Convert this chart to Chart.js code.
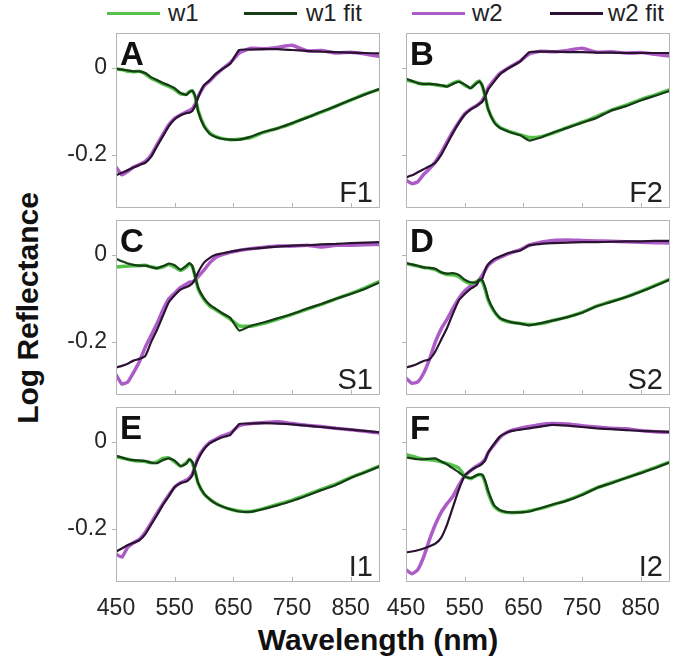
<!DOCTYPE html>
<html>
<head>
<meta charset="utf-8">
<title>Log Reflectance</title>
<script src="https://cdn.jsdelivr.net/npm/chart.js@4.4.1/dist/chart.umd.min.js"></script>
<style>
  body { margin: 0; width: 673px; height: 667px; background: #fff; position: relative; overflow: hidden;
         font-family: "Liberation Sans", Arial, Helvetica, sans-serif; color: #222; }
  canvas.panel { position: absolute; }
  .key { position: absolute; top: 12px; height: 3px; width: 53px; }
  .key-text { position: absolute; top: -1px; font-size: 24px; line-height: 28px; color: #222; white-space: nowrap; }
  #ylab { position: absolute; left: 28px; top: 308px; transform: translate(-50%, -50%) rotate(-90deg);
          font-weight: bold; font-size: 30px; white-space: nowrap; color: #111; }
  #xlab { position: absolute; left: 378px; top: 640px; transform: translate(-50%, -50%);
          font-weight: bold; font-size: 30px; white-space: nowrap; color: #111; }
</style>
</head>
<body>
<div class="key" style="left:107px;background:#55c04a"></div><div class="key-text" style="left:168px">w1</div>
<div class="key" style="left:244px;background:#173d17"></div><div class="key-text" style="left:306px">w1 fit</div>
<div class="key" style="left:412px;background:#ad5cc7"></div><div class="key-text" style="left:472px">w2</div>
<div class="key" style="left:550px;background:#2b1233"></div><div class="key-text" style="left:608px">w2 fit</div>
<div id="ylab">Log Reflectance</div>
<div id="xlab">Wavelength (nm)</div>
<script>
// wavelengths (nm), shared by every panel
const wavelengths = [450,460,470,480,490,500,510,520,530,540, 550,560,570,575,580,585,590,600, 610,620,630,645,660, 680,700,725,750,775,800,825,850,875,900];
const xTicks = [450, 550, 650, 750, 850];
const yTicks = [-0.2, 0];
const panelLetters = ['A', 'B', 'C', 'D', 'E', 'F'];
const panelLabels = ['F1', 'F2', 'S1', 'S2', 'I1', 'I2'];

// A / F1
const aW1    = [-0.003,-0.004,-0.008,-0.009,-0.008,-0.014,-0.024,-0.030,-0.037,-0.043, -0.050,-0.060,-0.061,-0.055,-0.053,-0.067,-0.098,-0.132, -0.150,-0.158,-0.162,-0.165,-0.164, -0.160,-0.149,-0.139,-0.128,-0.114,-0.102,-0.088,-0.074,-0.060,-0.049];
const aW1Fit = [-0.002,-0.004,-0.006,-0.008,-0.008,-0.012,-0.022,-0.028,-0.035,-0.040, -0.047,-0.058,-0.062,-0.056,-0.052,-0.065,-0.100,-0.135, -0.152,-0.159,-0.163,-0.165,-0.165, -0.158,-0.148,-0.139,-0.127,-0.115,-0.101,-0.088,-0.074,-0.061,-0.048];
const aW2    = [-0.228,-0.246,-0.238,-0.228,-0.222,-0.215,-0.200,-0.176,-0.153,-0.131, -0.116,-0.108,-0.101,-0.098,-0.094,-0.083,-0.066,-0.042, -0.030,-0.016,-0.004,0.012,0.034, 0.045,0.044,0.047,0.052,0.039,0.040,0.034,0.036,0.032,0.026];
const aW2Fit = [-0.247,-0.241,-0.235,-0.229,-0.223,-0.218,-0.204,-0.180,-0.157,-0.134, -0.118,-0.109,-0.104,-0.103,-0.099,-0.087,-0.068,-0.040, -0.028,-0.014,-0.004,0.010,0.041, 0.042,0.043,0.043,0.041,0.039,0.037,0.036,0.035,0.034,0.033];

// B / F2
const bW1    = [-0.028,-0.031,-0.035,-0.038,-0.037,-0.039,-0.041,-0.042,-0.035,-0.031, -0.040,-0.046,-0.034,-0.030,-0.042,-0.066,-0.095,-0.123, -0.137,-0.143,-0.148,-0.154,-0.160, -0.158,-0.150,-0.137,-0.125,-0.112,-0.097,-0.086,-0.073,-0.062,-0.050];
const bW1Fit = [-0.025,-0.030,-0.035,-0.037,-0.037,-0.038,-0.040,-0.043,-0.037,-0.032, -0.038,-0.047,-0.036,-0.031,-0.040,-0.065,-0.095,-0.125, -0.138,-0.144,-0.149,-0.155,-0.167, -0.160,-0.149,-0.138,-0.126,-0.115,-0.098,-0.088,-0.075,-0.064,-0.053];
const bW2    = [-0.258,-0.266,-0.262,-0.245,-0.232,-0.216,-0.195,-0.170,-0.146,-0.125, -0.106,-0.095,-0.087,-0.082,-0.075,-0.062,-0.046,-0.028, -0.013,-0.004,0.004,0.016,0.032, 0.038,0.037,0.040,0.045,0.036,0.037,0.034,0.035,0.031,0.027];
const bW2Fit = [-0.252,-0.247,-0.240,-0.233,-0.226,-0.218,-0.200,-0.175,-0.150,-0.127, -0.108,-0.096,-0.088,-0.083,-0.078,-0.066,-0.050,-0.032, -0.015,-0.005,0.003,0.015,0.036, 0.037,0.037,0.036,0.036,0.035,0.035,0.034,0.034,0.034,0.034];

// C / S1
const cW1    = [-0.028,-0.027,-0.026,-0.025,-0.025,-0.024,-0.028,-0.030,-0.028,-0.022, -0.028,-0.036,-0.028,-0.021,-0.027,-0.050,-0.078,-0.102, -0.118,-0.126,-0.135,-0.148,-0.163, -0.164,-0.158,-0.148,-0.137,-0.125,-0.114,-0.101,-0.089,-0.076,-0.061];
const cW1Fit = [-0.009,-0.015,-0.020,-0.023,-0.025,-0.025,-0.028,-0.031,-0.026,-0.020, -0.024,-0.034,-0.025,-0.019,-0.025,-0.050,-0.075,-0.100, -0.115,-0.124,-0.133,-0.145,-0.174, -0.163,-0.156,-0.146,-0.136,-0.124,-0.113,-0.101,-0.090,-0.078,-0.063];
const cW2    = [-0.275,-0.297,-0.292,-0.270,-0.245,-0.212,-0.185,-0.158,-0.127,-0.101, -0.088,-0.075,-0.067,-0.063,-0.062,-0.058,-0.050,-0.035, -0.018,-0.006,0.000,0.006,0.010, 0.014,0.017,0.020,0.020,0.022,0.018,0.022,0.022,0.023,0.024];
const cW2Fit = [-0.259,-0.255,-0.250,-0.243,-0.239,-0.232,-0.200,-0.172,-0.140,-0.109, -0.093,-0.080,-0.074,-0.071,-0.066,-0.055,-0.040,-0.018, -0.007,0.000,0.003,0.007,0.011, 0.014,0.016,0.019,0.021,0.022,0.024,0.025,0.027,0.028,0.029];

// D / S2
const dW1    = [-0.020,-0.023,-0.026,-0.029,-0.031,-0.034,-0.041,-0.045,-0.046,-0.050, -0.060,-0.066,-0.062,-0.058,-0.062,-0.080,-0.104,-0.130, -0.146,-0.152,-0.155,-0.158,-0.160, -0.158,-0.151,-0.143,-0.132,-0.118,-0.107,-0.097,-0.084,-0.070,-0.056];
const dW1Fit = [-0.019,-0.022,-0.025,-0.029,-0.030,-0.032,-0.040,-0.043,-0.042,-0.046, -0.057,-0.063,-0.063,-0.057,-0.058,-0.075,-0.100,-0.128, -0.145,-0.151,-0.155,-0.158,-0.162, -0.157,-0.151,-0.143,-0.133,-0.118,-0.108,-0.097,-0.085,-0.071,-0.057];
const dW2    = [-0.283,-0.295,-0.292,-0.272,-0.240,-0.200,-0.170,-0.148,-0.123,-0.100, -0.083,-0.072,-0.063,-0.057,-0.047,-0.035,-0.024,-0.013, -0.006,0.000,0.005,0.012,0.022, 0.029,0.033,0.034,0.033,0.032,0.031,0.030,0.029,0.028,0.027];
const dW2Fit = [-0.259,-0.255,-0.250,-0.244,-0.240,-0.222,-0.195,-0.168,-0.135,-0.105, -0.090,-0.078,-0.070,-0.058,-0.055,-0.035,-0.022,-0.010, -0.004,0.002,0.006,0.010,0.022, 0.025,0.027,0.028,0.029,0.029,0.030,0.031,0.031,0.032,0.032];

// E / I1
const eW1    = [-0.034,-0.037,-0.040,-0.043,-0.044,-0.045,-0.048,-0.046,-0.038,-0.037, -0.046,-0.056,-0.048,-0.040,-0.048,-0.070,-0.095,-0.120, -0.132,-0.141,-0.148,-0.155,-0.159, -0.160,-0.154,-0.144,-0.134,-0.122,-0.109,-0.097,-0.082,-0.069,-0.055];
const eW1Fit = [-0.032,-0.036,-0.040,-0.042,-0.043,-0.044,-0.048,-0.049,-0.042,-0.038, -0.043,-0.056,-0.050,-0.040,-0.046,-0.068,-0.095,-0.119, -0.132,-0.142,-0.148,-0.155,-0.160, -0.161,-0.155,-0.146,-0.136,-0.124,-0.111,-0.099,-0.083,-0.070,-0.056];
const eW2    = [-0.258,-0.265,-0.242,-0.232,-0.224,-0.208,-0.186,-0.164,-0.142,-0.122, -0.104,-0.094,-0.088,-0.083,-0.074,-0.055,-0.036,-0.015, -0.001,0.006,0.013,0.020,0.037, 0.042,0.044,0.046,0.042,0.038,0.035,0.031,0.028,0.024,0.020];
const eW2Fit = [-0.252,-0.245,-0.237,-0.232,-0.226,-0.212,-0.190,-0.168,-0.145,-0.125, -0.104,-0.095,-0.091,-0.086,-0.077,-0.055,-0.040,-0.017, -0.003,0.004,0.010,0.016,0.041, 0.042,0.043,0.042,0.040,0.037,0.034,0.031,0.028,0.025,0.022];

// F / I2
const fW1    = [-0.029,-0.033,-0.037,-0.040,-0.041,-0.043,-0.046,-0.050,-0.054,-0.060, -0.078,-0.085,-0.078,-0.075,-0.078,-0.094,-0.118,-0.148, -0.158,-0.162,-0.163,-0.162,-0.159, -0.153,-0.145,-0.134,-0.121,-0.106,-0.094,-0.083,-0.071,-0.059,-0.046];
const fW1Fit = [-0.036,-0.038,-0.040,-0.040,-0.039,-0.038,-0.045,-0.052,-0.061,-0.070, -0.080,-0.083,-0.077,-0.075,-0.075,-0.089,-0.112,-0.145, -0.157,-0.161,-0.162,-0.162,-0.160, -0.152,-0.144,-0.135,-0.122,-0.106,-0.095,-0.083,-0.072,-0.060,-0.047];
const fW2    = [-0.294,-0.303,-0.294,-0.265,-0.225,-0.190,-0.162,-0.142,-0.125,-0.100, -0.078,-0.066,-0.056,-0.052,-0.047,-0.040,-0.025,-0.007, 0.010,0.020,0.026,0.031,0.035, 0.040,0.042,0.041,0.037,0.034,0.031,0.030,0.026,0.023,0.022];
const fW2Fit = [-0.254,-0.252,-0.249,-0.245,-0.240,-0.234,-0.220,-0.190,-0.150,-0.110, -0.078,-0.066,-0.058,-0.055,-0.050,-0.042,-0.025,-0.005, 0.012,0.020,0.025,0.028,0.031, 0.035,0.039,0.037,0.034,0.031,0.029,0.027,0.025,0.024,0.023];

const panelSeries = [
  [aW1, aW1Fit, aW2, aW2Fit],
  [bW1, bW1Fit, bW2, bW2Fit],
  [cW1, cW1Fit, cW2, cW2Fit],
  [dW1, dW1Fit, dW2, dW2Fit],
  [eW1, eW1Fit, eW2, eW2Fit],
  [fW1, fW1Fit, fW2, fW2Fit]
];

const colW1 = '#55c04a', colW1Fit = '#173d17', colW2 = '#ad5cc7', colW2Fit = '#2b1233';

// layout of the 3x2 grid (plot box of each panel)
const boxW = 264, boxH = 175;
const padL = 60, padT = 4, padR = 4, padB = 44;
const colLeft = [116, 406];
const rowTop = [33, 220, 407];

Chart.defaults.font.family = '"Liberation Sans", Arial, Helvetica, sans-serif';
Chart.defaults.color = '#262626';

// keep every plot box the same size, whatever the tick labels need
function fixScale(s, size) {
  if (s.isHorizontal()) s.height = size; else s.width = size;
  s.paddingTop = 0;
  s.paddingBottom = 0;
  s.paddingLeft = 0;
  s.paddingRight = 0;
}

const panelDecor = {
  id: 'panelDecor',
  afterDatasetsDraw(chart, args, opts) {
    const { ctx, chartArea: a, scales: { x, y } } = chart;
    ctx.save();
    ctx.strokeStyle = '#b5b5b5';
    ctx.lineWidth = 1;
    ctx.strokeRect(a.left + 0.5, a.top + 0.5, a.right - a.left - 1, a.bottom - a.top - 1);
    ctx.beginPath();
    x.ticks.forEach(t => {
      const px = Math.round(x.getPixelForValue(t.value)) + 0.5;
      ctx.moveTo(px, a.bottom);
      ctx.lineTo(px, a.bottom - 5);
    });
    y.ticks.forEach(t => {
      const py = Math.round(y.getPixelForValue(t.value)) + 0.5;
      ctx.moveTo(a.left - 4, py);
      ctx.lineTo(a.left, py);
    });
    ctx.stroke();

    ctx.fillStyle = '#111';
    ctx.font = 'bold 33px "Liberation Sans", Arial, sans-serif';
    ctx.textBaseline = 'top';
    ctx.textAlign = 'left';
    ctx.fillText(opts.letter, a.left + 4, a.top + 6);

    ctx.fillStyle = '#222';
    ctx.font = '29px "Liberation Sans", Arial, sans-serif';
    ctx.textBaseline = 'alphabetic';
    ctx.textAlign = 'right';
    ctx.fillText(opts.label, a.right - 7, a.bottom - 6);
    ctx.restore();
  }
};

function toPoints(vals) {
  return wavelengths.map((w, k) => ({ x: w, y: vals[k] }));
}

panelSeries.forEach((series, i) => {
  const col = i % 2, row = Math.floor(i / 2);
  const canvas = document.createElement('canvas');
  canvas.className = 'panel';
  canvas.width = padL + boxW + padR;
  canvas.height = padT + boxH + padB;
  canvas.style.left = (colLeft[col] - padL) + 'px';
  canvas.style.top = (rowTop[row] - padT) + 'px';
  document.body.appendChild(canvas);

  const [w1, w1Fit, w2, w2Fit] = series;
  // first dataset is drawn last, so fits go first to sit on top
  const datasets = [
    { label: 'w1 fit', data: toPoints(w1Fit), borderColor: colW1Fit, borderWidth: 2.2 },
    { label: 'w2 fit', data: toPoints(w2Fit), borderColor: colW2Fit, borderWidth: 2.2 },
    { label: 'w1', data: toPoints(w1), borderColor: colW1, borderWidth: 3.5 },
    { label: 'w2', data: toPoints(w2), borderColor: colW2, borderWidth: 3.5 }
  ].map(d => Object.assign(d, { pointRadius: 0, tension: 0.15, fill: false }));

  new Chart(canvas.getContext('2d'), {
    type: 'line',
    data: { datasets },
    plugins: [panelDecor],
    options: {
      responsive: false,
      animation: false,
      events: [],
      layout: { padding: { top: padT, right: padR, left: 0, bottom: 0 } },
      plugins: {
        legend: { display: false },
        tooltip: { enabled: false },
        panelDecor: { letter: panelLetters[i], label: panelLabels[i] }
      },
      scales: {
        x: {
          type: 'linear',
          min: 450,
          max: 900,
          afterBuildTicks: s => { s.ticks = xTicks.map(v => ({ value: v })); },
          afterFit: s => fixScale(s, padB),
          grid: { display: false, drawTicks: false },
          border: { display: false },
          ticks: {
            display: row === 2,
            autoSkip: false,
            maxRotation: 0,
            padding: 13,
            font: { size: 23 },
            color: '#262626'
          }
        },
        y: {
          min: -0.322,
          max: 0.08,
          afterBuildTicks: s => { s.ticks = yTicks.map(v => ({ value: v })); },
          afterFit: s => fixScale(s, padL),
          grid: { display: false, drawTicks: false },
          border: { display: false },
          ticks: {
            display: col === 0,
            padding: 9,
            font: { size: 23 },
            color: '#262626',
            callback: v => (v === 0 ? '0' : String(v))
          }
        }
      }
    }
  });
});
</script>
</body>
</html>
